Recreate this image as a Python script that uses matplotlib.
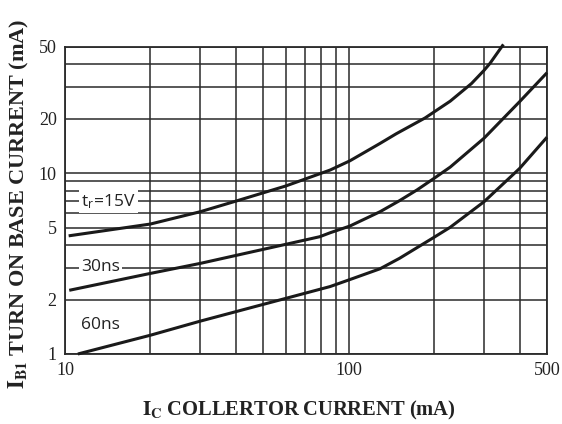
import numpy as np
import matplotlib
matplotlib.use("Agg")
import matplotlib.pyplot as plt
from matplotlib.ticker import FixedLocator, NullFormatter, FixedFormatter

plt.rcParams['font.family'] = ['Liberation Serif', 'DejaVu Serif']
plt.rcParams['mathtext.fontset'] = 'stix'

# curve data (IC in mA, IB1 in mA)
ic_15v = [10.3, 20, 30, 40, 60, 86, 101, 129, 147, 186, 228, 271, 300, 315, 351]
ib_15v = [4.5, 5.23, 6.12, 7.0, 8.49, 10.4, 11.7, 14.6, 16.5, 20.2, 25.0, 31.3, 37.0, 40.5, 51.5]

ic_30ns = [10.35, 20, 30, 60, 79, 86, 101, 129, 151, 174, 200, 228, 300, 400, 500]
ib_30ns = [2.25, 2.79, 3.17, 4.04, 4.45, 4.68, 5.1, 6.12, 7.04, 8.07, 9.36, 10.8, 15.6, 24.8, 35.9]

ic_60ns = [11.1, 20, 30, 60, 86, 101, 129, 151, 200, 228, 300, 400, 500]
ib_60ns = [1.0, 1.27, 1.52, 2.03, 2.36, 2.58, 2.96, 3.38, 4.42, 5.02, 6.95, 10.6, 15.8]

x_grid = [10, 20, 30, 40, 50, 60, 70, 80, 90, 100, 200, 300, 400, 500]
y_grid = [1, 2, 3, 4, 5, 6, 7, 8, 9, 10, 20, 30, 40, 50]
x_labels = {10: '10', 100: '100', 500: '500'}
y_labels = {1: '1', 2: '2', 5: '5', 10: '10', 20: '20', 50: '50'}

fig = plt.figure(figsize=(5.62, 4.24), dpi=100)
ax = fig.add_axes([65 / 562, 70 / 424, 482 / 562, 307.3 / 424])
ax.set_xscale('log')
ax.set_yscale('log')
ax.set_xlim(10, 500)
ax.set_ylim(1, 50)

gc = '#2a2a2a'
for xv in x_grid:
    ax.axvline(xv, color=gc, lw=1.1, zorder=1)
for yv in y_grid:
    ax.axhline(yv, color=gc, lw=1.1, zorder=1)

ax.xaxis.set_major_locator(FixedLocator(list(x_labels.keys())))
ax.xaxis.set_major_formatter(FixedFormatter(list(x_labels.values())))
ax.xaxis.set_minor_formatter(NullFormatter())
ax.yaxis.set_major_locator(FixedLocator(list(y_labels.keys())))
ax.yaxis.set_major_formatter(FixedFormatter(list(y_labels.values())))
ax.yaxis.set_minor_formatter(NullFormatter())
ax.tick_params(which='both', length=0, labelsize=13, colors='#222222')
ax.tick_params(axis='x', pad=6)
ax.tick_params(axis='y', pad=6)

for sp in ax.spines.values():
    sp.set_color(gc)
    sp.set_linewidth(1.3)

for xs, ys in [(ic_15v, ib_15v), (ic_30ns, ib_30ns), (ic_60ns, ib_60ns)]:
    ax.plot(xs, ys, color='#1a1a1a', lw=2.2, zorder=3, clip_on=False,
            solid_capstyle='butt', solid_joinstyle='round')

lbl_font = dict(family=['Open Sans', 'DejaVu Sans'], fontsize=12.5, color='#222222',
                zorder=4, va='center', ha='left')
box = dict(facecolor='white', edgecolor='none', pad=1.5)
ax.text(11.4, 6.95, r't$_\mathregular{r}$=15V', bbox=box, **lbl_font)
ax.text(11.4, 3.03, '30ns', bbox=box, **lbl_font)
ax.text(11.4, 1.45, '60ns', **lbl_font)

ax.set_xlabel(r'$\mathbf{I_C}$ COLLERTOR CURRENT (mA)', fontsize=14.8,
              fontweight='bold', color='#222222')
ax.xaxis.set_label_coords(0.485, -0.145)
ax.set_ylabel(r'$\mathbf{I_{B1}}$ TURN ON BASE CURRENT (mA)', fontsize=16,
              fontweight='bold', color='#222222')
ax.yaxis.set_label_coords(-0.07, 0.49)

fig.savefig('out.png', dpi=100)
